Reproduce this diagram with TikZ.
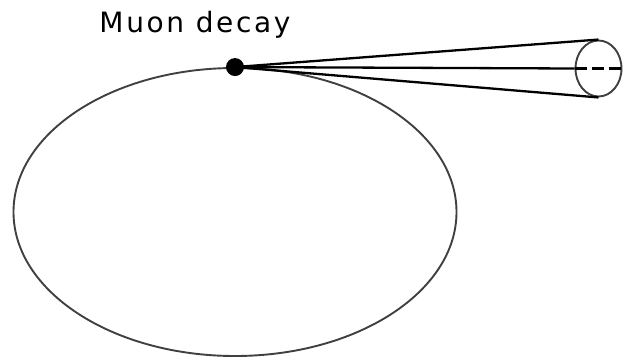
\documentclass[tikz,border=0pt]{standalone}
\usepackage{fontspec}
\setmainfont{DejaVu Sans}
\usetikzlibrary{shapes.geometric}
\begin{document}
\begin{tikzpicture}[x=1pt, y=-1pt,
	track/.style = {black, line width=2.3pt},
	ring/.style = {draw=black!75, line width=1.9pt}]
	\useasboundingbox (0,0) rectangle (623,357);
	\node [ring, ellipse, inner sep=0pt, minimum width=443, minimum height=288] (orbit) at (235,212) {};
	\node [ring, ellipse, inner sep=0pt, minimum width=46, minimum height=56] (detector) at (598.5,68.5) {};
	\node [circle, fill=black, inner sep=0pt, minimum size=18] (decay) at (orbit.north) {};
	\node [anchor=base, font=\fontsize{28}{30}\selectfont\addfontfeature{LetterSpace=9.5}] (label) at (195,32) {Muon decay};
	\draw [track] (decay.center) -- (detector.north);
	\draw [track] (decay.center) -- (detector.south);
	\draw [track] (decay.center) -- (detector.west);
	\draw [track, dash pattern=on 12pt off 5pt] (detector.west) -- ++(47,0);
\end{tikzpicture}
\end{document}
